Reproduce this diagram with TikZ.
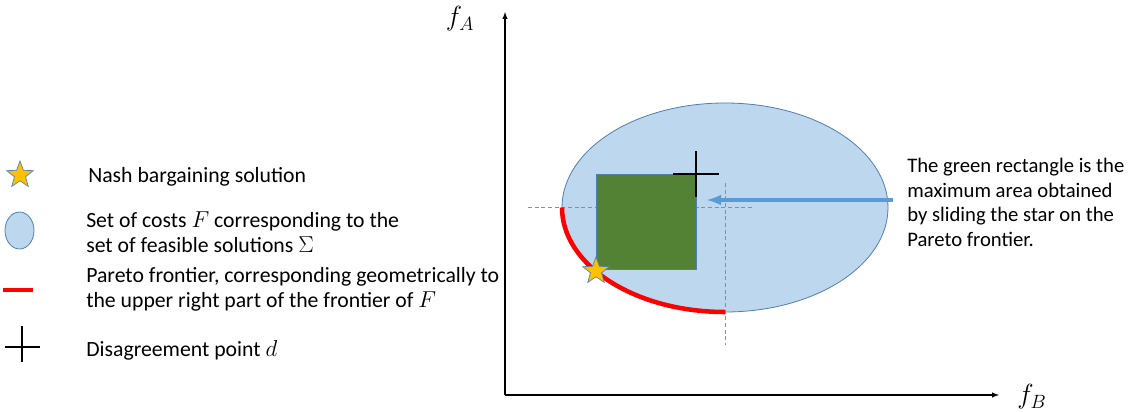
\documentclass[tikz,border=0pt]{standalone}
\usepackage{amsmath, amssymb}
\usepackage{fontspec}
\setmainfont{Carlito}
\usepackage{xcolor}
\usepackage{tikz}
\usetikzlibrary{shapes.geometric}
\definecolor{setfill}{RGB}{189, 215, 238}
\definecolor{setline}{RGB}{80, 126, 174}
\definecolor{rectgreen}{RGB}{84, 130, 53}
\definecolor{starfill}{RGB}{255, 192, 0}
\definecolor{arrowblue}{RGB}{91, 155, 213}

\begin{document}
\begin{tikzpicture}[x=0.75pt, y=0.75pt,
		txt/.style={font=\fontsize{15.5}{18.4}\selectfont, align=left, inner sep=0pt},
		legtxt/.style={font=\fontsize{16.3}{18.6}\selectfont, align=left, inner sep=0pt},
		nbs/.style={star, star points=5, star point ratio=2.4, minimum size=21pt, inner sep=0pt,
			fill=starfill, draw=setline, line width=0.5pt},
		frontier/.style={red, line width=3.4pt},
		guide/.style={arrowblue, dashed, dash pattern=on 3pt off 2pt, line width=0.7pt},
		cross/.style={black, line width=1.6pt}]
			\useasboundingbox (0,0) rectangle (1137,411);
			\def\rx{163}
			\def\ry{104.5}

			% Axes
			\coordinate (O) at (505,16);
			\coordinate (ytop) at (505,399);
			\coordinate (xend) at (999,16);
			\draw[line width=0.8pt, -latex] (O) -- (ytop);
			\draw[line width=0.8pt, -latex] (O) -- (xend);
			\node[font=\fontsize{20}{24}\selectfont] (fA) at (460,392) {$f_A$};
			\node[font=\fontsize{20}{24}\selectfont] (fB) at (1032,14) {$f_B$};

			% Set of costs F
			\coordinate (c) at (725,203.5);
			\filldraw[fill=setfill, draw=setline, line width=0.6pt] (c) ellipse [x radius=\rx, y radius=\ry];

			% Guides through the left and bottom ends of the frontier
			\draw[guide] (528,203.5) -- (752,203.5);
			\draw[guide] (725,228) -- (725,66);

			% Green rectangle
			\filldraw[fill=rectgreen, draw=setline, line width=0.4pt] (596,142) rectangle (696,237);

			% Pareto frontier
			\draw[frontier] (562,203.5) arc [start angle=180, end angle=270, x radius=\rx, y radius=\ry];

			% Disagreement point and solution
			\coordinate (d) at (696,237);
			\draw[cross] ([xshift=-17]d) -- ([xshift=17]d);
			\draw[cross] ([yshift=-17]d) -- ([yshift=17]d);
			\node[nbs] (sol) at (596,140) {};

			% Comment on the right
			\node[txt, anchor=west] (note) at (907,208.5) {The green rectangle is the\\maximum area obtained\\by sliding the star on the\\Pareto frontier.};
			\coordinate (tip) at (707,211);
			\draw[arrowblue, line width=2.6pt, -latex] (893,211) -- (tip);

			% Legend
			\node[nbs] (lstar) at (20,236) {};
			\node[legtxt, anchor=west] (lsol) at (88,234) {Nash bargaining solution};
			\filldraw[fill=setfill, draw=setline, line width=0.6pt] (19.5,180.5) ellipse [x radius=14.5, y radius=18.5];
			\node[legtxt, anchor=west] (lset) at (86,179) {Set of costs $F$ corresponding to the\\set of feasible solutions $\Sigma$};
			\draw[frontier] (3,121) -- (33,121);
			\node[legtxt, anchor=west] (lpar) at (86,121.5) {Pareto frontier, corresponding geometrically to\\the upper right part of the frontier of $F$};
			\coordinate (ld) at (22,64);
			\draw[cross] (5,64) -- (40,64);
			\draw[cross] (22,49) -- (22,85);
			\node[legtxt, anchor=west] (ldis) at (86,61) {Disagreement point $d$};

		\end{tikzpicture}
\end{document}
